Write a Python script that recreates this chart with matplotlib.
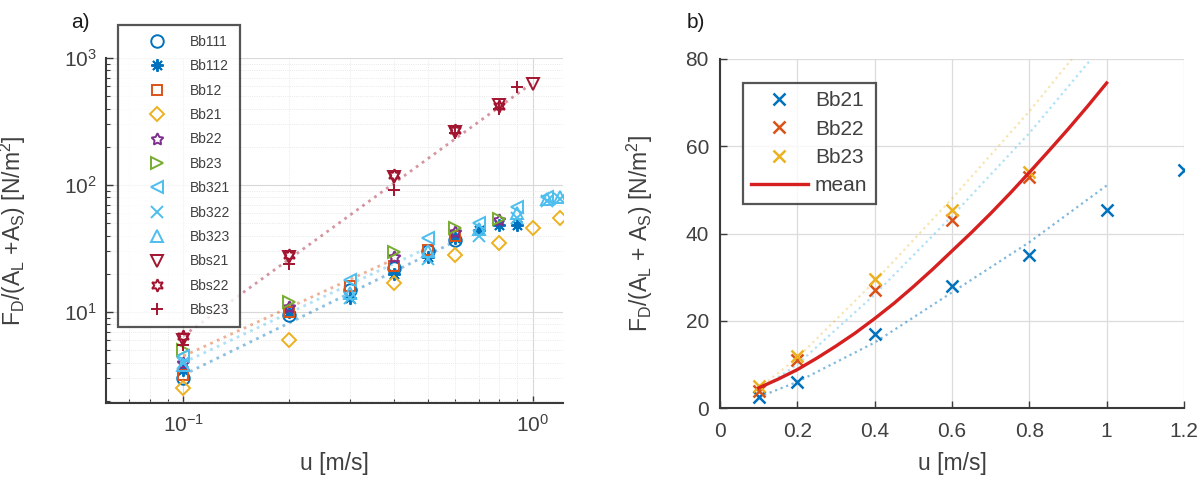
import numpy as np
import matplotlib
matplotlib.use("Agg")
import matplotlib.pyplot as plt
from matplotlib.ticker import LogLocator, NullFormatter, FixedLocator

plt.rcParams['font.family'] = ['Liberation Sans', 'DejaVu Sans']
plt.rcParams['mathtext.fontset'] = 'custom'
plt.rcParams['mathtext.rm'] = 'Liberation Sans'
plt.rcParams['mathtext.it'] = 'Liberation Sans:italic'
plt.rcParams['mathtext.default'] = 'regular'

# ---------------- data: panel a ----------------
names_a = ['Bb111', 'Bb112', 'Bb12', 'Bb21', 'Bb22', 'Bb23', 'Bb321', 'Bb322',
           'Bb323', 'Bbs21', 'Bbs22', 'Bbs23']
u_bb111 = [0.1, 0.2, 0.3, 0.4, 0.5, 0.6]
f_bb111 = [3.0, 9.5, 15, 22, 30, 37]
u_bb112 = [0.1, 0.2, 0.3, 0.4, 0.5, 0.6, 0.7, 0.8, 0.9]
f_bb112 = [3.5, 10, 13, 20, 27, 38, 44, 48, 48]
u_bb12 = [0.1, 0.2, 0.3, 0.4, 0.5, 0.6]
f_bb12 = [3.2, 10, 16, 23, 31, 40]
u_bb21 = [0.1, 0.2, 0.4, 0.6, 0.8, 1.0, 1.2]
f_bb21 = [2.5, 6, 17, 28, 35, 45.5, 54.5]
u_bb22 = [0.1, 0.2, 0.4, 0.6, 0.8]
f_bb22 = [4, 11, 27, 43, 53]
u_bb23 = [0.1, 0.2, 0.4, 0.6, 0.8]
f_bb23 = [5, 12, 29.5, 45.5, 54]
u_bb321 = [0.1, 0.3, 0.5, 0.7, 0.9, 1.1]
f_bb321 = [4.5, 18, 38, 50, 67, 80]
u_bb322 = [0.1, 0.3, 0.5, 0.7, 0.9, 1.1, 1.2]
f_bb322 = [4, 13, 26, 40, 55, 75, 78]
u_bb323 = [0.1, 0.3, 0.5, 0.7, 0.9, 1.1, 1.2]
f_bb323 = [3.8, 14, 30, 45, 60, 78, 80]
u_bbs21 = [0.1, 0.2, 0.4, 0.6, 0.8, 1.0]
f_bbs21 = [6, 27, 115, 260, 430, 620]
u_bbs22 = [0.1, 0.2, 0.4, 0.6, 0.8]
f_bbs22 = [6.5, 28, 120, 270, 420]
u_bbs23 = [0.1, 0.2, 0.4, 0.6, 0.8, 0.9]
f_bbs23 = [5.5, 24, 92, 255, 400, 590]

# dotted trend lines, panel a
fit_bbs_u = [0.1, 1.0]
fit_bbs_f = [6.5, 640]
fit_bb1_u = [0.1, 0.6]
fit_bb1_f = [3.2, 36]
fit_bb3_u = [0.1, 0.5]
fit_bb3_f = [4.0, 32]
fit_bb2_u = [0.1, 0.4]
fit_bb2_f = [4.5, 26]

# ---------------- data: panel b ----------------
names_b = ['Bb21', 'Bb22', 'Bb23']
ub_bb21 = [0.1, 0.2, 0.4, 0.6, 0.8, 1.0, 1.2]
fb_bb21 = [2.5, 6, 17, 28, 35, 45.5, 54.5]
ub_bb22 = [0.1, 0.2, 0.4, 0.6, 0.8]
fb_bb22 = [4, 11, 27, 43, 53]
ub_bb23 = [0.1, 0.2, 0.4, 0.6, 0.8]
fb_bb23 = [5, 12, 29.5, 45.5, 54]
mean_u = [0.1, 0.15, 0.2, 0.25, 0.3, 0.35, 0.4, 0.45, 0.5, 0.55, 0.6, 0.65,
          0.7, 0.75, 0.8, 0.85, 0.9, 0.95, 1.0]
mean_f = [4.6, 6.6, 8.8, 11.4, 14.2, 17.2, 20.5, 24.0, 27.8, 31.8, 36.0, 40.2,
          44.6, 49.2, 54.0, 58.9, 63.9, 69.1, 74.5]
fitb_bb21_u = [0.1, 0.2, 0.4, 0.6, 0.8, 1.0]
fitb_bb21_f = [2.5, 6, 15, 26.5, 38, 51]
fitb_bb22_u = [0.1, 0.2, 0.4, 0.6, 0.8, 0.96]
fitb_bb22_f = [4, 10, 26, 44, 63, 80]
fitb_bb23_u = [0.1, 0.2, 0.4, 0.6, 0.8, 0.91]
fitb_bb23_f = [4.5, 11.5, 29, 48, 68, 80]

C_BLUE = '#0072BD'; C_ORANGE = '#D95319'; C_YELLOW = '#EDB120'
C_PURPLE = '#7E2F8E'; C_GREEN = '#77AC30'; C_CYAN = '#4DBEEE'; C_RED = '#A2142F'
TXT = '#404040'
SPINE = '#3a3a3a'
W, H = 1204, 483

fig = plt.figure(figsize=(12.04, 4.83), dpi=100)

# ---------------- panel a ----------------
axa = fig.add_axes([106/W, 1-403/H, (563-106)/W, (403-58)/H])
axa.set_xscale('log'); axa.set_yscale('log')

for fu, ff, c in [(fit_bbs_u, fit_bbs_f, C_RED), (fit_bb1_u, fit_bb1_f, C_BLUE),
                  (fit_bb3_u, fit_bb3_f, C_CYAN), (fit_bb2_u, fit_bb2_f, C_ORANGE)]:
    axa.plot(fu, ff, ':', color=c, alpha=0.45, lw=2.0, zorder=1)

series_a = [
    (u_bb111, f_bb111, 'o', C_BLUE),
    (u_bb112, f_bb112, (8, 2, 0), C_BLUE),
    (u_bb12, f_bb12, 's', C_ORANGE),
    (u_bb21, f_bb21, 'D', C_YELLOW),
    (u_bb22, f_bb22, (5, 1, 0), C_PURPLE),
    (u_bb23, f_bb23, '>', C_GREEN),
    (u_bb321, f_bb321, '<', C_CYAN),
    (u_bb322, f_bb322, 'x', C_CYAN),
    (u_bb323, f_bb323, '^', C_CYAN),
    (u_bbs21, f_bbs21, 'v', C_RED),
    (u_bbs22, f_bbs22, (6, 1, 0), C_RED),
    (u_bbs23, f_bbs23, '+', C_RED),
]
handles = []
for (uu, ff, m, c), nm in zip(series_a, names_a):
    ms = 9
    if m in ('D', 's'):
        ms = 7.5
    h, = axa.plot(uu, ff, linestyle='none', marker=m, markersize=ms,
                  markerfacecolor='none', markeredgecolor=c, markeredgewidth=1.4,
                  label=nm, zorder=3)
    handles.append(h)

axa.grid(True, which='major', color='#d8d8d8', lw=0.8)
axa.grid(True, which='minor', color='#e2e2e2', lw=0.6, ls=':')
axa.yaxis.set_minor_locator(LogLocator(base=10, subs=np.arange(2, 10)))
axa.yaxis.set_minor_formatter(NullFormatter())
axa.xaxis.set_minor_locator(LogLocator(base=10, subs=np.arange(2, 10)))
axa.xaxis.set_minor_formatter(NullFormatter())
axa.set_xticks([0.1, 1.0])
axa.set_xticklabels([r'$10^{-1}$', r'$10^{0}$'])
axa.set_yticks([10, 100, 1000])
axa.set_yticklabels([r'$10^{1}$', r'$10^{2}$', r'$10^{3}$'])
axa.set_xlim(0.06, 1.22)
axa.set_ylim(1.92, 1000)

axa.set_xlabel('u [m/s]', fontsize=16.5, color=TXT)
axa.xaxis.set_label_coords(0.5, -0.142)
axa.set_ylabel(r'F$_D$/(A$_L$ +A$_S$) [N/m$^2$]', fontsize=16.5, color=TXT)
axa.yaxis.set_label_coords(-0.171, 0.5)

leg = axa.legend(handles=handles, loc='upper left',
                 bbox_to_anchor=(118/W, 1-25/H), bbox_transform=fig.transFigure,
                 fontsize=10, frameon=True, fancybox=False, labelspacing=0.75,
                 handlelength=4.2, handletextpad=0.3, borderpad=0.7, borderaxespad=0)
leg.get_frame().set_edgecolor('#2a2a2a')
leg.get_frame().set_linewidth(1.6)
for t in leg.get_texts():
    t.set_color(TXT)

fig.text(80/W, 1-22/H, 'a)', fontsize=15, ha='center', va='center', color='#1a1a1a')

# ---------------- panel b ----------------
axb = fig.add_axes([720/W, 1-408/H, (1184-720)/W, (408-59)/H])
axb.plot(fitb_bb21_u, fitb_bb21_f, ':', color=C_BLUE, alpha=0.5, lw=1.6, zorder=1)
axb.plot(fitb_bb22_u, fitb_bb22_f, ':', color=C_CYAN, alpha=0.45, lw=1.6, zorder=1)
axb.plot(fitb_bb23_u, fitb_bb23_f, ':', color=C_YELLOW, alpha=0.35, lw=1.6, zorder=1)
hb1, = axb.plot(ub_bb21, fb_bb21, 'x', color=C_BLUE, ms=9, mew=1.8, label='Bb21', zorder=3)
hb2, = axb.plot(ub_bb22, fb_bb22, 'x', color=C_ORANGE, ms=9, mew=1.8, label='Bb22', zorder=3)
hb3, = axb.plot(ub_bb23, fb_bb23, 'x', color=C_YELLOW, ms=9, mew=1.8, label='Bb23', zorder=3)
hm, = axb.plot(mean_u, mean_f, '-', color='#d62020', lw=2.4, label='mean', zorder=4)
axb.set_xlim(0, 1.2)
axb.set_ylim(0, 80)
axb.set_xticks([0, 0.2, 0.4, 0.6, 0.8, 1.0, 1.2])
axb.set_xticklabels(['0', '0.2', '0.4', '0.6', '0.8', '1', '1.2'])
axb.set_yticks([0, 20, 40, 60, 80])
axb.grid(True, color='#dcdcdc', lw=0.9)
axb.set_xlabel('u [m/s]', fontsize=16.5, color=TXT)
axb.xaxis.set_label_coords(0.5, -0.126)
axb.set_ylabel(r'F$_D$/(A$_L$ + A$_S$) [N/m$^2$]', fontsize=16.5, color=TXT)
axb.yaxis.set_label_coords(-0.14, 0.5)
legb = axb.legend(handles=[hb1, hb2, hb3, hm], loc='upper left',
                  bbox_to_anchor=(743/W, 1-83/H), bbox_transform=fig.transFigure,
                  fontsize=15, frameon=True, fancybox=False, labelspacing=0.45,
                  handlelength=2.7, handletextpad=0.35, borderpad=0.4, borderaxespad=0)
legb.get_frame().set_edgecolor('#2a2a2a')
legb.get_frame().set_linewidth(1.6)
for t in legb.get_texts():
    t.set_color(TXT)

fig.text(696/W, 1-22/H, 'b)', fontsize=15, ha='center', va='center', color='#1a1a1a')

for ax in [axa, axb]:
    ax.spines['top'].set_visible(False)
    ax.spines['right'].set_visible(False)
    ax.spines['left'].set_color(SPINE)
    ax.spines['bottom'].set_color(SPINE)
    ax.spines['left'].set_linewidth(1.5)
    ax.spines['bottom'].set_linewidth(1.5)
    ax.tick_params(which='both', direction='in', colors=SPINE, labelcolor=TXT,
                   labelsize=15)
    ax.tick_params(which='major', length=5, width=1.0)
    ax.tick_params(which='minor', length=3, width=0.8)
    ax.set_axisbelow(True)

axa.tick_params(axis='x', which='major', pad=8)
axa.tick_params(axis='y', which='major', pad=6.5)
axb.tick_params(axis='x', which='major', pad=10)
axb.tick_params(axis='y', which='major', pad=8)

fig.savefig('out.png', dpi=100, facecolor='white')
